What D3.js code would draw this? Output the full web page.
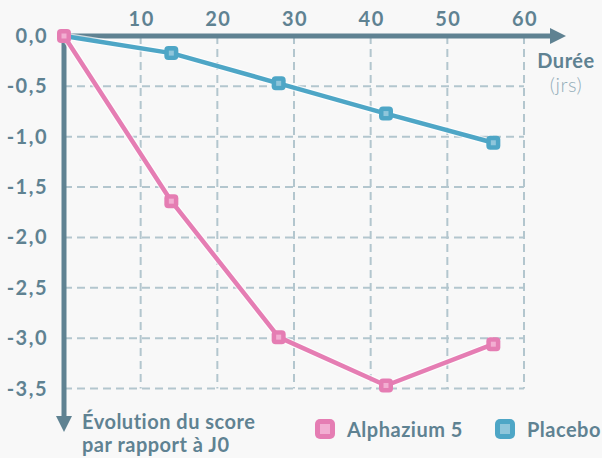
<!DOCTYPE html>
<html>
<head>
<meta charset="utf-8">
<script src="https://cdn.jsdelivr.net/npm/d3@7"></script>
<style>
  body { margin: 0; background: #f8f8f8; }
  text { font-family: Lato, "Open Sans", sans-serif; }
</style>
</head>
<body>
<div id="chart"></div>
<script>
// data
var days = [0, 14, 28, 42, 56];
var alphazium = [0, -1.64, -2.99, -3.47, -3.06];
var placebo = [0, -0.17, -0.47, -0.77, -1.06];
var xTicks = [10, 20, 30, 40, 50, 60];
var yTicks = [0, -0.5, -1, -1.5, -2, -2.5, -3, -3.5];

var width = 602, height = 458;
var axisCol = "#5f8292", gridCol = "#b3c6ce";
var pink = "#e57db3", blue = "#4ea6c6";

var svg = d3.select("#chart").append("svg")
  .attr("width", width).attr("height", height);

svg.append("rect").attr("width", width).attr("height", height).attr("fill", "#f8f8f8");

var x = d3.scaleLinear().domain([0, 60]).range([64, 524]);
var y = d3.scaleLinear().domain([0, -3.5]).range([36, 388.5]);

// grid
svg.append("g").selectAll("line.v")
  .data(xTicks).enter().append("line")
  .attr("x1", d => x(d)).attr("x2", d => x(d))
  .attr("y1", y(0)).attr("y2", y(-3.5))
  .attr("stroke", gridCol).attr("stroke-width", 2).attr("stroke-dasharray", "8,5");

svg.append("g").selectAll("line.h")
  .data(yTicks.slice(1)).enter().append("line")
  .attr("x1", x(0)).attr("x2", x(60))
  .attr("y1", d => y(d)).attr("y2", d => y(d))
  .attr("stroke", gridCol).attr("stroke-width", 2).attr("stroke-dasharray", "8,5");

// axes with arrows
svg.append("line").attr("x1", x(0) - 2.5).attr("x2", 553).attr("y1", y(0)).attr("y2", y(0))
  .attr("stroke", axisCol).attr("stroke-width", 5);
svg.append("path").attr("d", "M550,28 L566,36 L550,44 Z").attr("fill", axisCol);
svg.append("line").attr("x1", x(0)).attr("x2", x(0)).attr("y1", y(0) - 2.5).attr("y2", 419)
  .attr("stroke", axisCol).attr("stroke-width", 5);
svg.append("path").attr("d", "M56,416 L64,432 L72,416 Z").attr("fill", axisCol);

// tick labels
svg.append("g").selectAll("text")
  .data(xTicks).enter().append("text")
  .attr("x", d => x(d) + 1).attr("y", 26)
  .attr("text-anchor", "middle")
  .attr("font-size", 20).attr("font-weight", 700).attr("letter-spacing", 1.5).attr("fill", axisCol)
  .text(d => d);

var fmt = d3.format(".1f");
svg.append("g").selectAll("text")
  .data(yTicks).enter().append("text")
  .attr("x", 48).attr("y", d => y(d) + 7)
  .attr("text-anchor", "end")
  .attr("font-size", 20).attr("font-weight", 700).attr("letter-spacing", 1.5).attr("fill", axisCol)
  .text(d => fmt(d).replace("−", "-").replace(".", ","));

// axis titles
svg.append("text").attr("x", 566).attr("y", 68).attr("text-anchor", "middle")
  .attr("font-size", 20).attr("font-weight", 700).attr("letter-spacing", 0.5).attr("fill", axisCol).text("Durée");
svg.append("text").attr("x", 566).attr("y", 92).attr("text-anchor", "middle")
  .attr("font-size", 20).attr("font-weight", 300).attr("letter-spacing", 0.5).attr("fill", "#93adb9").text("(jrs)");
svg.append("text").attr("x", 82).attr("y", 429)
  .attr("font-size", 20).attr("font-weight", 700).attr("letter-spacing", 0.5).attr("fill", axisCol).text("Évolution du score");
svg.append("text").attr("x", 82).attr("y", 452)
  .attr("font-size", 20).attr("font-weight", 700).attr("letter-spacing", 0.5).attr("fill", axisCol).text("par rapport à J0");

// series
var series = [
  { name: "Placebo", values: placebo, color: blue, light: "#8fc6db" },
  { name: "Alphazium 5", values: alphazium, color: pink, light: "#f2aed2" }
];

var line = d3.line().x((d, i) => x(days[i])).y(d => y(d));

series.forEach(function (s) {
  svg.append("path").datum(s.values)
    .attr("d", line).attr("fill", "none")
    .attr("stroke", "#ffffff").attr("stroke-width", 7).attr("stroke-opacity", 0.7);
  svg.append("path").datum(s.values)
    .attr("d", line).attr("fill", "none")
    .attr("stroke", s.color).attr("stroke-width", 4.5).attr("stroke-linejoin", "round");
});

series.forEach(function (s) {
  var g = svg.append("g");
  var pts = s.values.map((v, i) => ({ d: days[i], v: v }));
  if (s.name === "Placebo") pts = pts.slice(1);
  g.selectAll("rect.m").data(pts).enter().append("rect")
    .attr("x", p => x(p.d) - 7).attr("y", p => y(p.v) - 7)
    .attr("width", 14).attr("height", 14).attr("rx", 4)
    .attr("fill", s.color);
  g.selectAll("rect.i").data(pts).enter().append("rect")
    .attr("x", p => x(p.d) - 2.5).attr("y", p => y(p.v) - 2.5)
    .attr("width", 5).attr("height", 5)
    .attr("fill", s.light);
});

// legend
var legend = [
  { name: "Alphazium 5", color: pink, light: "#f2aed2", x: 315, tx: 347 },
  { name: "Placebo", color: blue, light: "#8fc6db", x: 495, tx: 527 }
];
legend.forEach(function (l) {
  svg.append("rect").attr("x", l.x).attr("y", 419).attr("width", 20).attr("height", 20)
    .attr("rx", 5).attr("fill", l.color);
  svg.append("rect").attr("x", l.x + 5).attr("y", 424).attr("width", 10).attr("height", 10)
    .attr("fill", l.light);
  svg.append("text").attr("x", l.tx).attr("y", 437)
    .attr("font-size", 20).attr("font-weight", 700).attr("letter-spacing", 0.5).attr("fill", axisCol).text(l.name);
});
</script>
</body>
</html>
